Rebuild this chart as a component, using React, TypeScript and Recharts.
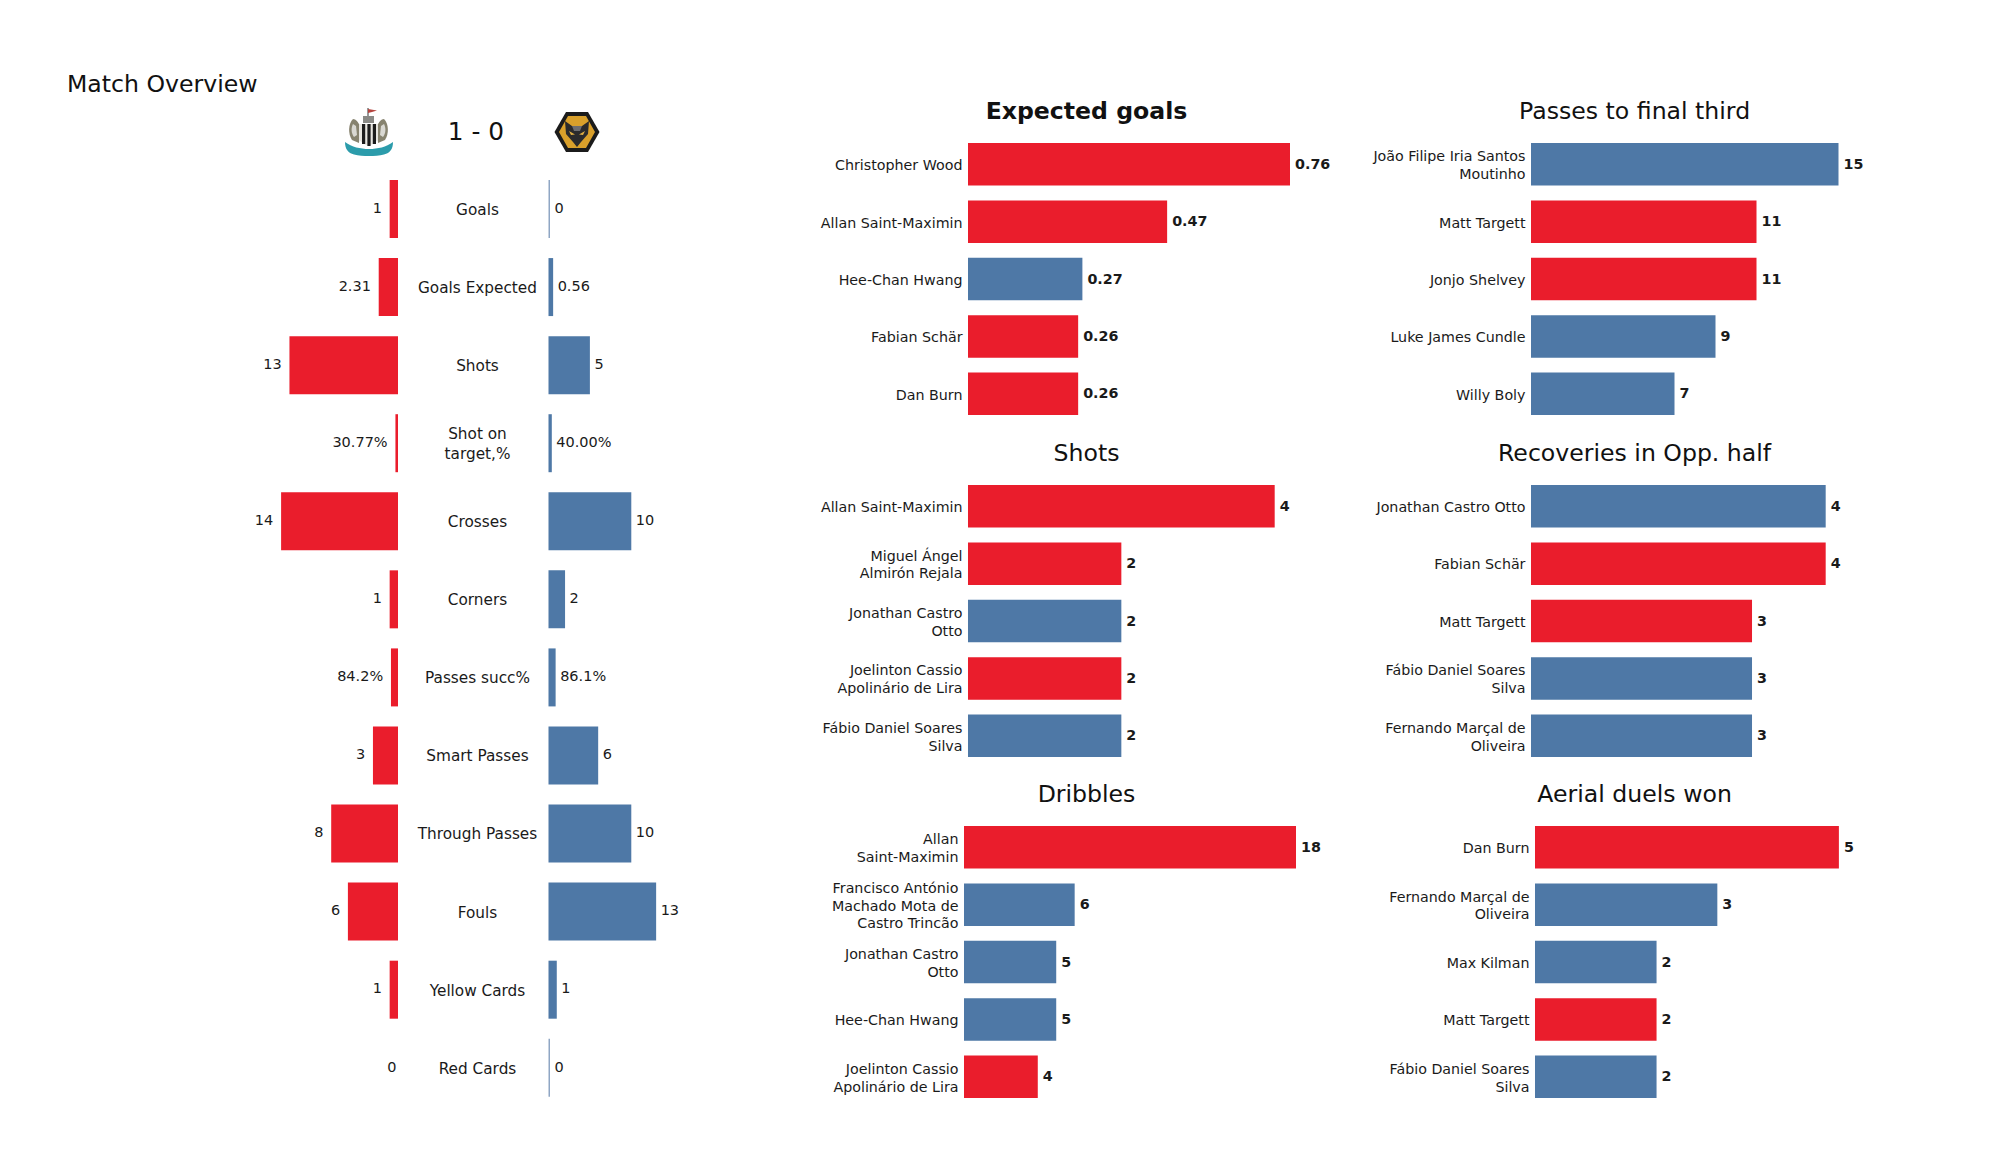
import { Bar, BarChart, Cell, LabelList, XAxis, YAxis } from 'recharts';

const RED = '#EA1D2C';
const BLUE = '#4E78A6';
const BLUE_ZERO = '#8FA6C4';
const FONT = '"DejaVu Sans", sans-serif';

// match overview rows
const statLabels = [
  'Goals',
  'Goals Expected',
  'Shots',
  'Shot on\ntarget,%',
  'Crosses',
  'Corners',
  'Passes succ%',
  'Smart Passes',
  'Through Passes',
  'Fouls',
  'Yellow Cards',
  'Red Cards',
];
const homeValues = [1, 2.31, 13, 0.3077, 14, 1, 0.842, 3, 8, 6, 1, 0];
const awayValues = [0, 0.56, 5, 0.4, 10, 2, 0.861, 6, 10, 13, 1, 0];
const homeText = ['1', '2.31', '13', '30.77%', '14', '1', '84.2%', '3', '8', '6', '1', '0'];
const awayText = ['0', '0.56', '5', '40.00%', '10', '2', '86.1%', '6', '10', '13', '1', '0'];

// player panels: H = Newcastle, A = Wolves
const xgNames = ['Christopher Wood', 'Allan Saint-Maximin', 'Hee-Chan Hwang', 'Fabian Schär', 'Dan Burn'];
const xgValues = [0.76, 0.47, 0.27, 0.26, 0.26];
const xgTeams = ['H', 'H', 'A', 'H', 'H'];

const passNames = ['João Filipe Iria Santos\nMoutinho', 'Matt Targett', 'Jonjo Shelvey', 'Luke James Cundle', 'Willy Boly'];
const passValues = [15, 11, 11, 9, 7];
const passTeams = ['A', 'H', 'H', 'A', 'A'];

const shotNames = [
  'Allan Saint-Maximin',
  'Miguel Ángel\nAlmirón Rejala',
  'Jonathan Castro\nOtto',
  'Joelinton Cassio\nApolinário de Lira',
  'Fábio Daniel Soares\nSilva',
];
const shotValues = [4, 2, 2, 2, 2];
const shotTeams = ['H', 'H', 'A', 'H', 'A'];

const recoveryNames = [
  'Jonathan Castro Otto',
  'Fabian Schär',
  'Matt Targett',
  'Fábio Daniel Soares\nSilva',
  'Fernando Marçal de\nOliveira',
];
const recoveryValues = [4, 4, 3, 3, 3];
const recoveryTeams = ['A', 'H', 'H', 'A', 'A'];

const dribbleNames = [
  'Allan\nSaint-Maximin',
  'Francisco António\nMachado Mota de\nCastro Trincão',
  'Jonathan Castro\nOtto',
  'Hee-Chan Hwang',
  'Joelinton Cassio\nApolinário de Lira',
];
const dribbleValues = [18, 6, 5, 5, 4];
const dribbleTeams = ['H', 'A', 'A', 'A', 'H'];

const aerialNames = ['Dan Burn', 'Fernando Marçal de\nOliveira', 'Max Kilman', 'Matt Targett', 'Fábio Daniel Soares\nSilva'];
const aerialValues = [5, 3, 2, 2, 2];
const aerialTeams = ['H', 'A', 'A', 'H', 'A'];

const homeRows = statLabels.map((name, i) => ({ name, value: homeValues[i], label: homeText[i] }));
const awayRows = statLabels.map((name, i) => ({ name, value: awayValues[i], label: awayText[i] }));

const ROW_BAND = 78.07;
const OVERVIEW_TOP = 170.4;
const UNIT_MAX = 20; // domain of the overview bars
const HOME_WIDTH = 167;
const AWAY_WIDTH = 165.6;
const HOME_EDGE = 397.8;

function MultiLineTick({ x, y, payload, size, lineHeight, anchor, shift = 0, dy = 0 }: any) {
  const lines = String(payload.value).split('\n');
  return (
    <text fontFamily={FONT} fontSize={size} fill="#1a1a1a" textAnchor={anchor}>
      {lines.map((line, i) => (
        <tspan key={i} x={x + shift} y={y + dy + (i - (lines.length - 1) / 2) * lineHeight} dominantBaseline="central">
          {line}
        </tspan>
      ))}
    </text>
  );
}

function valueLabel(side: 'left' | 'right', bold: boolean) {
  return function ValueLabel(props: any) {
    const box = props.viewBox ?? props;
    const left = Math.min(box.x, box.x + box.width);
    const right = Math.max(box.x, box.x + box.width);
    const cy = box.y + box.height / 2;
    // the home zero sits right against the axis in the original
    const gap = side === 'left' ? (props.value === '0' ? 1.5 : 7.8) : bold ? 5 : 4.5;
    return (
      <text
        x={side === 'left' ? left - gap : right + gap}
        y={bold ? cy - 0.5 : cy - 1.2}
        dominantBaseline="central"
        textAnchor={side === 'left' ? 'end' : 'start'}
        fontFamily={FONT}
        fontSize={bold ? 14.3 : 14.5}
        fontWeight={bold ? 700 : 400}
        fill="#1a1a1a"
      >
        {props.value}
      </text>
    );
  };
}

function Title({ text, cx, cy, bold, size = 23.6 }: any) {
  return (
    <div
      style={{
        position: 'absolute',
        left: cx - 300,
        top: cy - 20,
        width: 600,
        height: 40,
        lineHeight: '40px',
        textAlign: 'center',
        fontFamily: FONT,
        fontSize: size,
        fontWeight: bold ? 700 : 400,
        color: '#111',
      }}
    >
      {text}
    </div>
  );
}

function PlayerPanel({ title, bold, names, values, teams, plotLeft, plotWidth, barTop, cx, titleY }: any) {
  const band = 57.4;
  const barH = 42.5;
  const axisW = 175;
  const rows = names.map((name: string, i: number) => ({ name, value: values[i] }));
  const height = band * 5;
  return (
    <>
      <Title text={title} cx={cx} cy={titleY} bold={bold} />
      <div style={{ position: 'absolute', left: plotLeft - axisW, top: barTop - (band - barH) / 2 }}>
        <BarChart
          width={axisW + plotWidth + 60}
          height={height}
          data={rows}
          layout="vertical"
          margin={{ top: 0, right: 60, bottom: 0, left: 0 }}
          barCategoryGap={0}
        >
          <XAxis type="number" hide domain={[0, Math.max(...values)]} />
          <YAxis
            type="category"
            dataKey="name"
            width={axisW}
            axisLine={false}
            tickLine={false}
            tickSize={0}
            tickMargin={0}
            interval={0}
            tick={<MultiLineTick size={14.25} lineHeight={17.8} anchor="end" shift={-5.5} dy={0.4} />}
          />
          <Bar dataKey="value" barSize={barH} isAnimationActive={false}>
            {teams.map((t: string, i: number) => (
              <Cell key={i} fill={t === 'H' ? RED : BLUE} />
            ))}
            <LabelList dataKey="value" content={valueLabel('right', true)} />
          </Bar>
        </BarChart>
      </div>
    </>
  );
}

function NewcastleCrest() {
  return (
    <svg width={50} height={50} viewBox="0 0 50 50" style={{ position: 'absolute', left: 344, top: 107 }}>
      <path d="M24 1 L24 10" stroke="#555" strokeWidth={1.2} />
      <path d="M24 2 L33 3.5 L28 5 L24 6 Z" fill="#b5443f" />
      <rect x={19} y={9} width={11} height={7} fill="#8a8a86" />
      <path d="M9 12 C4 17 4 27 8 33 L15 36 L16 19 C14 15 12 12 9 12 Z" fill="#87836f" />
      <path d="M40 12 C45 17 45 27 41 33 L34 36 L33 19 C35 15 37 12 40 12 Z" fill="#87836f" />
      <path d="M9 17 C7 21 7 26 10 30 L13 28 L12 19 Z" fill="#d9d8d2" />
      <path d="M40 17 C42 21 42 26 39 30 L36 28 L37 19 Z" fill="#d9d8d2" />
      <path d="M15 17 H34 V30 C34 35 29 37 24.5 39 C20 37 15 35 15 30 Z" fill="#e8e6e0" />
      <rect x={18} y={17} width={3.2} height={20} fill="#1c1c1c" />
      <rect x={23.4} y={17} width={3.2} height={22} fill="#1c1c1c" />
      <rect x={28.8} y={17} width={3.2} height={20} fill="#1c1c1c" />
      <path d="M1 35 C8 40 16 42 25 42 C34 42 42 40 49 35 C49 42 46 46 40 47.5 C31 49.5 19 49.5 10 47.5 C4 46 1 42 1 35 Z" fill="#2c9cab" />
    </svg>
  );
}

function WolvesCrest() {
  return (
    <svg width={46} height={42} viewBox="0 0 46 42" style={{ position: 'absolute', left: 554, top: 111 }}>
      <path d="M12 1 H34 L45.5 21 L34 41 H12 L0.5 21 Z" fill="#1b1b1b" />
      <path d="M14 5 H32 L41 21 L32 37 H14 L5 21 Z" fill="#d9a02b" />
      <path d="M11 10 L18 15 H28 L35 10 L34 23 L27 31 L23 36 L19 31 L12 23 Z" fill="#2a2a2c" />
      <path d="M18 15 H28 L26 20 H20 Z" fill="#6d6d70" />
      <path d="M15 20 L21 23.5 L17 24 Z M31 20 L25 23.5 L29 24 Z" fill="#e2b043" />
    </svg>
  );
}

export default function App() {
  return (
    <div style={{ position: 'absolute', left: 0, top: 0, width: 2000, height: 1175, background: '#fff', overflow: 'hidden' }}>
      <div
        style={{
          position: 'absolute',
          left: 67,
          top: 64,
          lineHeight: '40px',
          fontFamily: FONT,
          fontSize: 23.6,
          color: '#111',
        }}
      >
        Match Overview
      </div>
      <NewcastleCrest />
      <Title text="1 - 0" cx={476} cy={131.5} size={24.8} />
      <WolvesCrest />

      {/* home bars grow leftwards from the shared edge */}
      <div style={{ position: 'absolute', left: HOME_EDGE - HOME_WIDTH, top: OVERVIEW_TOP }}>
        <BarChart
          width={HOME_WIDTH}
          height={ROW_BAND * 12}
          data={homeRows}
          layout="vertical"
          margin={{ top: 0, right: 0, bottom: 0, left: 0 }}
          barCategoryGap={0}
          style={{ overflow: 'visible' }}
        >
          <XAxis type="number" hide reversed domain={[0, UNIT_MAX]} />
          <YAxis type="category" dataKey="name" hide />
          <Bar dataKey="value" fill={RED} barSize={58} minPointSize={0.5} isAnimationActive={false}>
            {homeValues.map((v, i) => (
              <Cell key={i} fill={v === 0 ? 'none' : RED} />
            ))}
            <LabelList dataKey="label" content={valueLabel('left', false)} />
          </Bar>
        </BarChart>
      </div>

      {/* away bars, with the stat names as this chart's category axis */}
      <div style={{ position: 'absolute', left: 400, top: OVERVIEW_TOP }}>
        <BarChart
          width={148.5 + AWAY_WIDTH + 40}
          height={ROW_BAND * 12}
          data={awayRows}
          layout="vertical"
          margin={{ top: 0, right: 40, bottom: 0, left: 0 }}
          barCategoryGap={0}
        >
          <XAxis type="number" hide domain={[0, UNIT_MAX]} />
          <YAxis
            type="category"
            dataKey="name"
            width={148.5}
            axisLine={false}
            tickLine={false}
            tickSize={0}
            tickMargin={0}
            interval={0}
            tick={<MultiLineTick size={15.3} lineHeight={20} anchor="middle" shift={-71} dy={0.9} />}
          />
          <Bar dataKey="value" fill={BLUE} barSize={58} minPointSize={1.5} isAnimationActive={false}>
            {awayValues.map((v, i) => (
              <Cell key={i} fill={v === 0 ? BLUE_ZERO : BLUE} />
            ))}
            <LabelList dataKey="label" content={valueLabel('right', false)} />
          </Bar>
        </BarChart>
      </div>

      <PlayerPanel title="Expected goals" bold names={xgNames} values={xgValues} teams={xgTeams} plotLeft={968} plotWidth={322} barTop={143} cx={1086.5} titleY={111} />
      <PlayerPanel title="Shots" names={shotNames} values={shotValues} teams={shotTeams} plotLeft={968} plotWidth={306.7} barTop={485} cx={1086.5} titleY={453} />
      <PlayerPanel title="Dribbles" names={dribbleNames} values={dribbleValues} teams={dribbleTeams} plotLeft={963.6} plotWidth={332} barTop={826} cx={1086.5} titleY={794} />
      <PlayerPanel title="Passes to final third" names={passNames} values={passValues} teams={passTeams} plotLeft={1530.7} plotWidth={307.5} barTop={143} cx={1634.6} titleY={111} />
      <PlayerPanel title="Recoveries in Opp. half" names={recoveryNames} values={recoveryValues} teams={recoveryTeams} plotLeft={1530.7} plotWidth={294.7} barTop={485} cx={1634.6} titleY={453} />
      <PlayerPanel title="Aerial duels won" names={aerialNames} values={aerialValues} teams={aerialTeams} plotLeft={1535.4} plotWidth={303.9} barTop={826} cx={1634.6} titleY={794} />
    </div>
  );
}
